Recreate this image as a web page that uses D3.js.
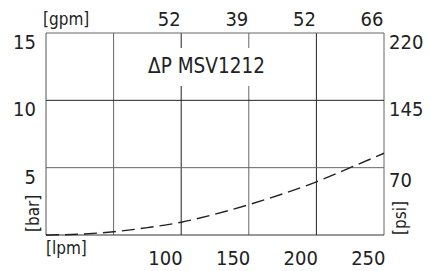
<!DOCTYPE html>
<html><head><meta charset="utf-8">
<script src="https://cdn.jsdelivr.net/npm/d3@7"></script>
<style>
html,body{margin:0;padding:0;background:#fff;}
svg text{font-family:"DejaVu Sans Condensed","DejaVu Sans",sans-serif;font-stretch:condensed;fill:#222;}
</style></head>
<body><svg id="c" width="430" height="271"></svg>
<script>
const flowLpm = [0, 25, 50, 75, 100, 125, 150, 175, 200, 225, 250];
const dpBar   = [0, 0.06, 0.24, 0.55, 0.95, 1.55, 2.25, 3.05, 3.95, 5.0, 6.07];
const xGridLpm = [50, 100, 150, 200, 250];
const xTickLabels = ["100", "150", "200", "250"];
const xTickValues = [100, 150, 200, 250];
const gpmLabels = ["52", "39", "52", "66"];
const yTickValues = [5, 10, 15];
const yTickLabels = ["5", "10", "15"];
const psiLabels = ["70", "145", "220"];
const title = "ΔP MSV1212";

const svg = d3.select("#c");
const L = 46, R = 384, T = 33, B = 235;
const x = d3.scaleLinear().domain([0, 250]).range([L, R]);
const y = d3.scaleLinear().domain([0, 15]).range([B, T]);

// grid
const g = svg.append("g");
g.selectAll("line.v").data(xGridLpm).enter().append("line")
  .attr("x1", d => x(d)).attr("x2", d => x(d)).attr("y1", T).attr("y2", B)
  .attr("stroke", (d, i) => i % 2 ? "#222" : "#666").attr("stroke-width", 1);
g.selectAll("line.h").data(yTickValues).enter().append("line")
  .attr("x1", L).attr("x2", R).attr("y1", d => y(d)).attr("y2", d => y(d))
  .attr("stroke", (d, i) => i === 1 ? "#222" : "#666").attr("stroke-width", 1);
g.append("line").attr("x1", L).attr("x2", L).attr("y1", T).attr("y2", B).attr("stroke", "#555");
g.append("line").attr("x1", L).attr("x2", R).attr("y1", B).attr("y2", B).attr("stroke", "#333");

// title with white backing
svg.append("rect").attr("x", 141).attr("y", 48).attr("width", 131).attr("height", 38).attr("fill", "#fff");
svg.append("text").attr("x", 206.5).attr("y", 73).attr("text-anchor", "middle")
  .attr("font-size", 20.5).text(title);

// curve
const line = d3.line().x(d => x(d[0])).y(d => y(d[1])).curve(d3.curveMonotoneX);
svg.append("path").datum(flowLpm.map((f, i) => [f, dpBar[i]]))
  .attr("d", line).attr("fill", "none").attr("stroke", "#222")
  .attr("stroke-width", 1.4).attr("stroke-dasharray", "13,6");

// bottom labels
svg.selectAll("text.xb").data(xTickValues).enter().append("text")
  .attr("x", d => x(d) + 1.5).attr("y", 265).attr("text-anchor", "end")
  .attr("font-size", 20).text((d, i) => xTickLabels[i]);
// top labels
svg.selectAll("text.xt").data(xTickValues).enter().append("text")
  .attr("x", d => x(d) - 0.5).attr("y", 26).attr("text-anchor", "end")
  .attr("font-size", 20).text((d, i) => gpmLabels[i]);
// left labels
svg.selectAll("text.yl").data(yTickValues).enter().append("text")
  .attr("x", 36).attr("y", d => y(d) + 16).attr("text-anchor", "end")
  .attr("font-size", 20).text((d, i) => yTickLabels[i]);
// right labels
svg.selectAll("text.yr").data(yTickValues).enter().append("text")
  .attr("x", 389).attr("y", d => y(d) + (d === 5 ? 19 : 16)).attr("text-anchor", "start")
  .attr("font-size", 20).text((d, i) => psiLabels[i]);

// unit labels
svg.append("text").attr("x", 43).attr("y", 24.5).attr("font-size", 17).text("[gpm]");
svg.append("text").attr("x", 46).attr("y", 253.5).attr("font-size", 17).text("[lpm]");
svg.append("text").attr("transform", "translate(39,232) rotate(-90)").attr("font-size", 17).text("[bar]");
svg.append("text").attr("transform", "translate(406,235) rotate(-90)").attr("font-size", 17).text("[psi]");
</script></body></html>
